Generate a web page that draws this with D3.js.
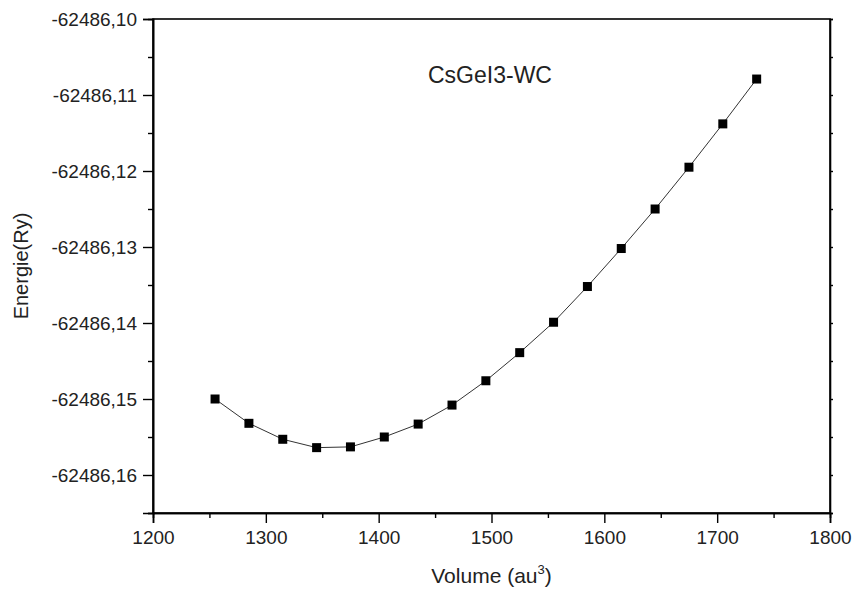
<!DOCTYPE html>
<html>
<head>
<meta charset="utf-8">
<script src="https://cdn.jsdelivr.net/npm/d3@7"></script>
<style>
  body { margin: 0; background: #fff; }
  text { font-family: "Liberation Sans", Arial, sans-serif; fill: #222; }
</style>
</head>
<body>
<div id="chart"></div>
<script>
// data
const volumes = [1255, 1285, 1315, 1345, 1375, 1405, 1435, 1465, 1495, 1525, 1555, 1585, 1615, 1645, 1675, 1705, 1735];
const energies = [-62486.1500, -62486.1532, -62486.1553, -62486.1564, -62486.1563, -62486.1550, -62486.1533,
    -62486.1508, -62486.1476, -62486.1439, -62486.1399, -62486.1352, -62486.1302, -62486.1250,
    -62486.1195, -62486.1138, -62486.1079];
const xTicks = [1200, 1300, 1400, 1500, 1600, 1700, 1800];
const xMinor = [1250, 1350, 1450, 1550, 1650, 1750];
const yTicks = [-62486.10, -62486.11, -62486.12, -62486.13, -62486.14, -62486.15, -62486.16];
const yMinor = [-62486.105, -62486.115, -62486.125, -62486.135, -62486.145, -62486.155, -62486.165];

const points = volumes.map((v, i) => ({ v, e: energies[i] }));

const W = 853, H = 593;
const margin = { top: 19, right: 23, bottom: 80, left: 153 };
const width = W - margin.left - margin.right;
const height = H - margin.top - margin.bottom;

const x = d3.scaleLinear().domain([1200, 1800]).range([0, width]);
const y = d3.scaleLinear().domain([-62486.165, -62486.10]).range([height, 0]);

const comma = d3.formatLocale({ decimal: ",", thousands: "", grouping: [3], currency: ["", ""], minus: "-" });
const fmtY = comma.format(".2f");

const svg = d3.select("#chart").append("svg")
    .attr("width", W)
    .attr("height", H)
    .append("g")
    .attr("transform", "translate(" + margin.left + "," + margin.top + ")");

// frame
svg.append("rect")
    .attr("width", width)
    .attr("height", height)
    .attr("fill", "none")
    .attr("stroke", "#000")
    .attr("stroke-width", 1.6);

// left axis
svg.append("g")
    .call(d3.axisLeft(y).tickValues(yTicks).tickSize(10).tickPadding(6).tickFormat(fmtY));
svg.append("g")
    .call(d3.axisLeft(y).tickValues(yMinor).tickSize(5).tickFormat(""));

// right axis, small ticks
svg.append("g")
    .attr("transform", "translate(" + width + ",0)")
    .call(d3.axisRight(y).tickValues(yMinor.concat(yTicks)).tickSize(3).tickFormat(""));

// bottom axis
svg.append("g")
    .attr("transform", "translate(0," + height + ")")
    .call(d3.axisBottom(x).tickValues(xTicks).tickSize(10).tickPadding(8).tickFormat(d3.format("d")));
svg.append("g")
    .attr("transform", "translate(0," + height + ")")
    .call(d3.axisBottom(x).tickValues(xMinor).tickSize(5).tickFormat(""));

svg.selectAll(".domain").attr("stroke", "#000").attr("stroke-width", 1.6);
svg.selectAll(".tick line").attr("stroke", "#000").attr("stroke-width", 1.4);
svg.selectAll(".tick text").style("font-size", "19px").attr("fill", "#222");

// line and markers
const line = d3.line().x(d => x(d.v)).y(d => y(d.e));
svg.append("path")
    .datum(points)
    .attr("d", line)
    .attr("fill", "none")
    .attr("stroke", "#333")
    .attr("stroke-width", 1);

const s = 9;
svg.selectAll(".pt")
    .data(points)
    .enter()
    .append("rect")
    .attr("class", "pt")
    .attr("x", d => x(d.v) - s / 2)
    .attr("y", d => y(d.e) - s / 2)
    .attr("width", s)
    .attr("height", s)
    .attr("fill", "#000");

// labels
svg.append("text")
    .attr("x", 275)
    .attr("y", 64)
    .style("font-size", "23px")
    .text("CsGeI3-WC");

const xl = svg.append("text")
    .attr("x", width / 2)
    .attr("y", height + 70)
    .attr("text-anchor", "middle")
    .style("font-size", "21px");
xl.append("tspan").text("Volume (au");
xl.append("tspan").attr("dy", -9).style("font-size", "13px").text("3");
xl.append("tspan").attr("dy", 9).text(")");

svg.append("text")
    .attr("transform", "translate(" + (-125) + "," + (height / 2) + ") rotate(-90)")
    .attr("text-anchor", "middle")
    .style("font-size", "20px")
    .text("Energie(Ry)");
</script>
</body>
</html>
